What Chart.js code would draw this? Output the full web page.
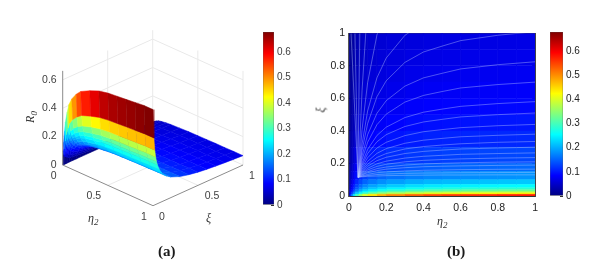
<!DOCTYPE html>
<html>
<head>
<meta charset="utf-8">
<title>R0 surface and contour</title>
<script src="https://cdn.jsdelivr.net/npm/chart.js@4/dist/chart.umd.min.js"></script>
<style>
  html, body { margin: 0; padding: 0; background: #fff; }
  #page { position: relative; width: 598px; height: 268px; overflow: hidden; }
  canvas { position: absolute; filter: blur(0.3px); }
  .lbl { position: absolute; font-family: "Liberation Serif", serif; font-style: italic; color: #333; font-size: 12px; line-height: 12px; white-space: nowrap; }
  .lbl sub { font-size: 9px; line-height: 0; }
  .cap { position: absolute; font-family: "Liberation Serif", serif; font-weight: bold; color: #1a1a1a; font-size: 15px; line-height: 15px; }
</style>
</head>
<body>
<div id="page">
  <canvas id="surfaceChart" style="left:40px;top:25px" width="220" height="220"></canvas>
  <canvas id="barA" style="left:255px;top:20px" width="50" height="200"></canvas>
  <canvas id="mapChart" style="left:315px;top:20px" width="232" height="225"></canvas>
  <canvas id="barB" style="left:542px;top:20px" width="50" height="190"></canvas>
  <div class="lbl" style="left:24px;top:111px;transform:rotate(-90deg)">R<sub>0</sub></div>
  <div class="lbl" style="left:88px;top:212px">&eta;<sub>2</sub></div>
  <div class="lbl" style="left:206px;top:212px">&xi;</div>
  <div class="lbl" style="left:437px;top:215px">&eta;<sub>2</sub></div>
  <div class="lbl" style="left:318px;top:104px;transform:rotate(-90deg)">&xi;</div>
  <div class="cap" style="left:158px;top:244px">(a)</div>
  <div class="cap" style="left:447px;top:244px">(b)</div>
</div>
<script>
  // grid the surface was read on
  const etaGrid = [0, 0.005, 0.01, 0.02, 0.03, 0.05, 0.07, 0.1, 0.15, 0.2, 0.3, 0.4, 0.5, 0.6, 0.7, 0.8, 0.9, 1];
  const xiGrid = [0, 0.01, 0.02, 0.03, 0.04, 0.05, 0.07, 0.1, 0.15, 0.2, 0.3, 0.4, 0.5, 0.6, 0.7, 0.8, 0.9, 1];

  // R0 values, one row per xi, one column per eta
  const r0Rows = [
    [0, .102, .162, .244, .311, .386, .447, .494, .542, .575, .609, .636, .650, .657, .663, .670, .677, .677],
    [0, .071, .114, .171, .218, .270, .313, .346, .379, .403, .427, .446, .455, .460, .465, .469, .474, .474],
    [0, .058, .092, .139, .177, .219, .254, .281, .308, .327, .347, .362, .370, .373, .377, .381, .385, .385],
    [0, .050, .080, .120, .153, .190, .220, .243, .266, .283, .300, .313, .320, .323, .326, .330, .333, .333],
    [0, .045, .072, .107, .137, .170, .197, .218, .238, .253, .268, .280, .286, .289, .292, .295, .298, .298],
    [0, .041, .065, .098, .125, .155, .180, .199, .218, .231, .245, .256, .261, .264, .267, .269, .272, .272],
    [0, .035, .056, .085, .108, .134, .155, .172, .188, .200, .212, .221, .226, .228, .230, .233, .235, .235],
    [0, .030, .048, .072, .092, .114, .132, .146, .160, .170, .180, .188, .192, .194, .196, .198, .200, .200],
    [0, .025, .040, .060, .076, .095, .110, .121, .133, .141, .149, .156, .159, .161, .163, .164, .166, .166],
    [0, .022, .035, .052, .067, .083, .096, .106, .116, .123, .131, .136, .139, .141, .142, .144, .145, .145],
    [0, .018, .029, .043, .055, .068, .079, .087, .095, .101, .107, .112, .114, .115, .117, .118, .119, .119],
    [0, .016, .025, .037, .048, .059, .069, .076, .083, .088, .094, .098, .100, .101, .102, .103, .104, .104],
    [0, .014, .022, .033, .043, .053, .061, .068, .074, .079, .084, .087, .089, .090, .091, .092, .093, .093],
    [0, .013, .020, .031, .039, .048, .056, .062, .068, .072, .077, .080, .082, .082, .083, .084, .085, .085],
    [0, .012, .019, .028, .036, .045, .052, .058, .063, .067, .071, .074, .076, .077, .077, .078, .079, .079],
    [0, .011, .018, .027, .034, .042, .049, .054, .059, .063, .067, .070, .071, .072, .073, .073, .074, .074],
    [0, .010, .017, .025, .032, .040, .046, .051, .056, .059, .063, .065, .067, .067, .068, .069, .070, .070],
    [0, .010, .016, .024, .030, .038, .044, .048, .053, .056, .059, .062, .063, .064, .065, .065, .066, .066]
  ];

  // contour lines of panel b, xi at each contourEta
  const contourEta = [0.05, 0.07, 0.1, 0.15, 0.2, 0.3, 0.4, 0.5, 0.6, 0.8, 1];
  const contourXi = [
    [.115, .646, 1.177, 1.71, 2.03, 2.39, 2.60, 2.71, 2.82, 2.93, 3.0],
    [.115, .406, .696, .989, 1.162, 1.362, 1.47, 1.54, 1.60, 1.66, 1.695],
    [.115, .318, .522, .726, .848, .987, 1.065, 1.11, 1.15, 1.19, 1.22],
    [.115, .280, .444, .610, .708, .821, .885, .921, .955, .988, 1.01],
    [.115, .246, .376, .508, .586, .675, .726, .754, .781, .807, .825],
    [.115, .223, .330, .438, .503, .577, .618, .642, .664, .685, .70],
    [.115, .201, .286, .372, .423, .482, .515, .534, .551, .568, .58],
    [.115, .188, .260, .333, .377, .427, .455, .471, .486, .500, .51],
    [.115, .175, .235, .295, .330, .371, .395, .408, .420, .432, .44],
    [.115, .164, .213, .262, .291, .324, .343, .354, .364, .373, .38],
    [.115, .155, .196, .237, .261, .289, .304, .313, .321, .330, .335],
    [.115, .149, .183, .217, .238, .261, .274, .282, .289, .295, .30],
    [.115, .143, .170, .198, .214, .233, .244, .250, .256, .261, .265],
    [.115, .137, .160, .182, .195, .210, .219, .224, .228, .233, .236],
    [.115, .132, .150, .168, .178, .190, .197, .201, .204, .208, .21],
    [.115, .129, .143, .156, .165, .174, .180, .183, .185, .188, .19],
    [.115, .124, .133, .143, .148, .154, .158, .160, .162, .164, .165],
    [.115, .121, .126, .132, .135, .139, .141, .142, .143, .144, .145],
    [.115, .118, .121, .123, .125, .127, .128, .129, .129, .130, .130]
  ];
  // the steep ones left of the focus, eta where they reach the top
  const steepTopEta = [0.011, 0.032, 0.058];
  const focusEta = 0.048;
  const focusXi = 0.115;

  const zTicks = [0, 0.2, 0.4, 0.6];
  const zTop = 0.663;
  const floorTicks = [0, 0.5, 1];
  const floorTickText = ["0", "0.5", "1"];
  const mapTicks = [0, 0.2, 0.4, 0.6, 0.8, 1];
  const barTicks = [0, 0.1, 0.2, 0.3, 0.4, 0.5, 0.6];
  const colorMax = 0.678;

  const fontFamily = '"Liberation Sans", Arial, sans-serif';
  const axisGrey = "#404040";

  Chart.defaults.animation = false;
  Chart.defaults.responsive = false;
  Chart.defaults.plugins.legend.display = false;
  Chart.defaults.plugins.tooltip.enabled = false;
  Chart.defaults.font.family = fontFamily;
  Chart.defaults.font.size = 10;
  Chart.defaults.elements.point.radius = 0;

  function clamp01(v) {
    return Math.max(0, Math.min(1, v));
  }

  function jet(value) {
    const t = clamp01(value / colorMax);
    const r = clamp01(1.5 - Math.abs(4 * t - 3));
    const g = clamp01(1.5 - Math.abs(4 * t - 2));
    const b = clamp01(1.5 - Math.abs(4 * t - 1));
    return `rgb(${Math.round(r * 255)},${Math.round(g * 255)},${Math.round(b * 255)})`;
  }

  // view of the 3d box, left corner (eta 0, xi 0, z 0) is the origin
  function project(eta, xi, z) {
    return { x: 90.3 * eta + 90 * xi, y: 142 * z + 40.7 * (xi - eta) };
  }

  function boxLine(a, b, color) {
    return {
      data: [project(a[0], a[1], a[2]), project(b[0], b[1], b[2])],
      showLine: true, borderColor: color, borderWidth: 1, fill: false
    };
  }

  function patch(points, color) {
    const closed = points.concat([points[0]]);
    return {
      data: closed, showLine: true, fill: "shape",
      backgroundColor: color, borderColor: color, borderWidth: 0.5, tension: 0
    };
  }

  // panel a: front patches first, chart.js paints the first dataset last
  const surfaceSets = [];
  for (let i = etaGrid.length - 2; i >= 0; i--) {
    for (let j = 0; j < xiGrid.length - 1; j++) {
      surfaceSets.push(patch([
        project(etaGrid[i], xiGrid[j], r0Rows[j][i]),
        project(etaGrid[i + 1], xiGrid[j], r0Rows[j][i + 1]),
        project(etaGrid[i + 1], xiGrid[j + 1], r0Rows[j + 1][i + 1]),
        project(etaGrid[i], xiGrid[j + 1], r0Rows[j + 1][i])
      ], jet(r0Rows[j][i])));
    }
  }

  const wallColor = "#e9e9e9";
  const edgeColor = "#8c8c8c";
  const boxSets = [];
  zTicks.slice(1).forEach(z => {
    boxSets.push(boxLine([0, 0, z], [0, 1, z], wallColor));
    boxSets.push(boxLine([0, 1, z], [1, 1, z], wallColor));
  });
  boxSets.push(boxLine([0, 0.5, 0], [0, 0.5, zTop], wallColor));
  boxSets.push(boxLine([0, 1, 0], [0, 1, zTop], wallColor));
  boxSets.push(boxLine([0.5, 1, 0], [0.5, 1, zTop], wallColor));
  boxSets.push(boxLine([1, 1, 0], [1, 1, zTop], wallColor));
  boxSets.push(boxLine([0.5, 0, 0], [0.5, 1, 0], wallColor));
  boxSets.push(boxLine([0, 0.5, 0], [1, 0.5, 0], wallColor));
  boxSets.push(boxLine([0, 1, 0], [0, 0, 0], wallColor));
  boxSets.push(boxLine([0, 1, 0], [1, 1, 0], wallColor));
  const edgeSets = [
    boxLine([0, 0, 0], [1, 0, 0], edgeColor),
    boxLine([1, 0, 0], [1, 1, 0], edgeColor),
    boxLine([0, 0, 0], [0, 0, zTop], edgeColor)
  ];

  const boxLabels = {
    id: "boxLabels",
    afterDraw(chart) {
      const { ctx, scales } = chart;
      const put = (text, p, dx, dy, align) => {
        ctx.textAlign = align;
        ctx.fillText(text, scales.x.getPixelForValue(p.x) + dx, scales.y.getPixelForValue(p.y) + dy);
      };
      ctx.save();
      ctx.font = "10.5px " + fontFamily;
      ctx.fillStyle = axisGrey;
      ctx.textBaseline = "middle";
      zTicks.forEach(z => put(z === 0 ? "0" : z.toFixed(1), project(0, 0, z), -6, 0, "right"));
      floorTicks.forEach((v, k) => {
        const off = k === 1 ? 14 : 9;
        put(floorTickText[k], project(v, 0, 0), -off, 11, "center");
        put(floorTickText[k], project(1, v, 0), off, 11, "center");
      });
      ctx.restore();
    }
  };

  new Chart(document.getElementById("surfaceChart"), {
    type: "scatter",
    data: { datasets: edgeSets.concat(surfaceSets, boxSets) },
    options: {
      layout: { padding: 0 },
      scales: {
        x: { type: "linear", display: false, min: -22.7, max: 197.3 },
        y: { type: "linear", display: false, min: -80, max: 140 }
      }
    },
    plugins: [boxLabels]
  });

  // panel b: heat cells then contour lines on top
  const cellSets = [];
  for (let i = 0; i < etaGrid.length - 1; i++) {
    for (let j = 0; j < xiGrid.length - 1; j++) {
      const mean = (r0Rows[j][i] + r0Rows[j][i + 1] + r0Rows[j + 1][i] + r0Rows[j + 1][i + 1]) / 4;
      cellSets.push(patch([
        { x: etaGrid[i], y: xiGrid[j] },
        { x: etaGrid[i + 1], y: xiGrid[j] },
        { x: etaGrid[i + 1], y: xiGrid[j + 1] },
        { x: etaGrid[i], y: xiGrid[j + 1] }
      ], jet(mean)));
    }
  }
  const contourColor = "rgba(190,205,255,0.5)";
  const contourSets = contourXi.map(row => ({
    data: row.map((xi, k) => ({ x: contourEta[k], y: xi })),
    showLine: true, borderColor: contourColor, borderWidth: 0.8, fill: false
  }));
  steepTopEta.forEach(top => {
    contourSets.push({
      data: [{ x: focusEta, y: focusXi }, { x: top, y: 1 }],
      showLine: true, borderColor: contourColor, borderWidth: 0.8, fill: false
    });
  });

  const boxAxis = position => ({
    type: "linear", position, min: 0, max: 1,
    ticks: { display: false, stepSize: 0.2 },
    border: { color: "#444", width: 1 },
    grid: { drawOnChartArea: false, tickLength: -3, color: "#222" },
    afterFit(s) {
      if (position === "top") s.height = 0;
      else s.width = 0;
    }
  });

  new Chart(document.getElementById("mapChart"), {
    type: "scatter",
    data: { datasets: contourSets.concat(cellSets) },
    options: {
      layout: { padding: { top: 11, right: 9, bottom: 0, left: 0 } },
      scales: {
        x: {
          type: "linear", min: 0, max: 1,
          border: { color: "#333", width: 1 },
          grid: { drawOnChartArea: false, tickLength: -3, color: "#222" },
          ticks: { color: "#222", padding: 9, stepSize: 0.2, maxRotation: 0, font: { size: 10.5 },
            callback: v => mapTicks.includes(Math.round(v * 10) / 10) ? String(Math.round(v * 10) / 10) : "" },
          afterFit(s) { s.height = 49; }
        },
        y: {
          type: "linear", min: 0, max: 1,
          border: { color: "#555", width: 1.5 },
          grid: { drawOnChartArea: false, tickLength: -3, color: "#222" },
          ticks: { color: "#222", padding: 7, stepSize: 0.2, font: { size: 10.5 },
            callback: v => mapTicks.includes(Math.round(v * 10) / 10) ? String(Math.round(v * 10) / 10) : "" },
          afterFit(s) { s.width = 34; }
        },
        xTop: boxAxis("top"),
        yRight: boxAxis("right")
      }
    }
  });

  // colour bars
  function jetGradient(context) {
    const area = context.chart.chartArea;
    if (!area) return "#000080";
    const g = context.chart.ctx.createLinearGradient(0, area.bottom, 0, area.top);
    [0, 0.11, 0.125, 0.375, 0.625, 0.875, 1].forEach(t => g.addColorStop(t, jet(t * colorMax)));
    return g;
  }

  function colorBar(id, padding, axisWidth, textColor) {
    new Chart(document.getElementById(id), {
      type: "bar",
      data: {
        labels: ["R0"],
        datasets: [{
          data: [[0, colorMax]], backgroundColor: jetGradient,
          barPercentage: 1, categoryPercentage: 1,
          borderWidth: 0.6, borderColor: "#555", borderSkipped: false
        }]
      },
      options: {
        layout: { padding },
        scales: {
          x: { display: false },
          y: {
            type: "linear", position: "right", min: 0, max: colorMax,
            afterBuildTicks(s) { s.ticks = barTicks.map(value => ({ value })); },
            border: { display: false },
            grid: { drawOnChartArea: false, tickLength: -3, color: "#333" },
            ticks: { color: textColor, padding: 6, callback: v => v === 0 ? "0" : v.toFixed(1) },
            afterFit(s) { s.width = axisWidth; }
          }
        }
      }
    });
  }
  colorBar("barA", { left: 8, right: 0, top: 12, bottom: 15 }, 31, axisGrey);
  colorBar("barB", { left: 8, right: 0, top: 11, bottom: 14 }, 29, "#222");
</script>
</body>
</html>
